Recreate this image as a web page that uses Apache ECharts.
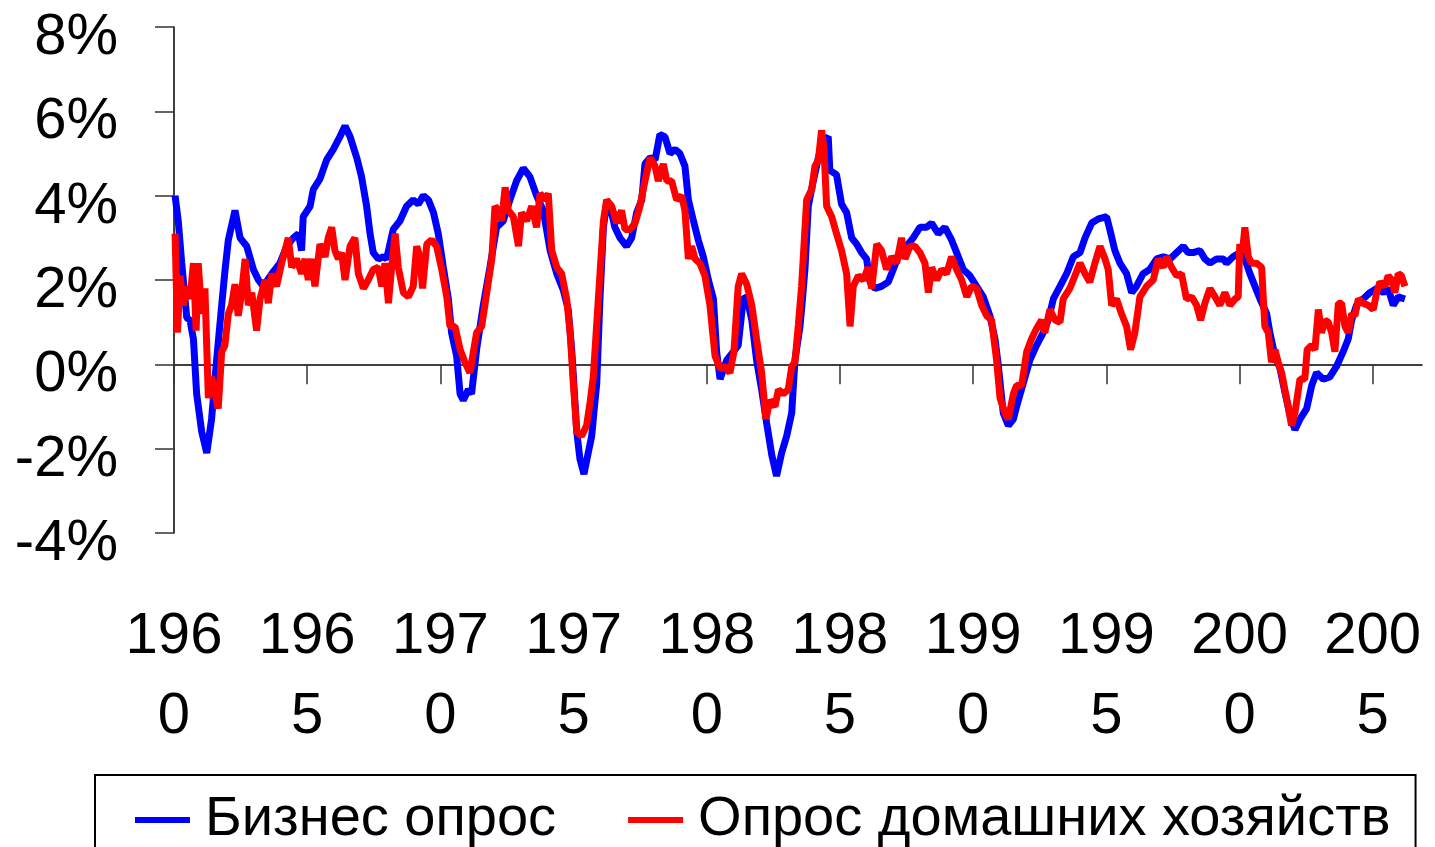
<!DOCTYPE html>
<html>
<head>
<meta charset="utf-8">
<script src="https://cdn.jsdelivr.net/npm/echarts@6/dist/echarts.min.js"></script>
<style>
  html, body { margin: 0; padding: 0; background: #fff; }
  #chart { width: 1435px; height: 847px; }
</style>
</head>
<body>
<div id="chart"></div>
<script>
  // [год, %] — бизнес опрос (синяя линия)
  var business = [
    [1960.04, 4.0], [1960.16, 3.4], [1960.29, 2.4], [1960.48, 1.1], [1960.6, 1.05], [1960.73, 0.6],
    [1960.85, -0.7], [1961.04, -1.6], [1961.23, -2.1], [1961.41, -1.3], [1961.6, 0.1], [1961.79, 1.4],
    [1961.91, 2.2], [1962.04, 2.95], [1962.29, 3.65], [1962.48, 3.0], [1962.73, 2.8], [1962.98, 2.25],
    [1963.17, 2.0], [1963.35, 1.85], [1963.73, 2.2], [1963.98, 2.4], [1964.23, 2.8], [1964.48, 3.0],
    [1964.67, 3.1], [1964.79, 2.7], [1964.85, 3.5], [1965.11, 3.75], [1965.23, 4.15], [1965.48, 4.4],
    [1965.73, 4.85], [1965.98, 5.1], [1966.23, 5.4], [1966.42, 5.65], [1966.61, 5.4], [1966.86, 4.9],
    [1967.04, 4.45], [1967.23, 3.75], [1967.36, 3.1], [1967.48, 2.65], [1967.67, 2.5], [1967.86, 2.55],
    [1967.98, 2.5], [1968.23, 3.2], [1968.48, 3.4], [1968.73, 3.75], [1968.98, 3.9], [1969.17, 3.8],
    [1969.36, 4.0], [1969.55, 3.9], [1969.74, 3.6], [1969.92, 3.1], [1970.11, 2.3], [1970.3, 1.55],
    [1970.42, 0.75], [1970.61, 0.2], [1970.74, -0.7], [1970.86, -0.85], [1971.05, -0.6], [1971.17, -0.7],
    [1971.36, 0.35], [1971.61, 1.4], [1971.86, 2.3], [1972.11, 3.25], [1972.36, 3.4], [1972.61, 3.9],
    [1972.86, 4.35], [1973.11, 4.65], [1973.36, 4.45], [1973.61, 4.0], [1973.86, 3.65], [1974.12, 2.7],
    [1974.37, 2.15], [1974.62, 1.75], [1974.8, 1.3], [1974.93, 0.35], [1975.12, -1.6], [1975.24, -2.25],
    [1975.39, -2.6], [1975.55, -2.1], [1975.68, -1.7], [1975.8, -0.9], [1975.87, -0.45], [1975.99, 1.55],
    [1976.12, 3.25], [1976.24, 3.8], [1976.37, 3.75], [1976.55, 3.25], [1976.74, 3.0], [1976.99, 2.8],
    [1977.18, 3.0], [1977.37, 3.6], [1977.56, 3.9], [1977.68, 4.75], [1977.87, 4.9], [1978.06, 4.85],
    [1978.24, 5.45], [1978.43, 5.4], [1978.62, 5.0], [1978.81, 5.1], [1978.99, 5.0], [1979.18, 4.7],
    [1979.31, 3.9], [1979.5, 3.4], [1979.68, 2.95], [1979.87, 2.55], [1980.06, 2.0], [1980.25, 1.55],
    [1980.37, 0.3], [1980.5, -0.35], [1980.75, 0.1], [1981.0, 0.3], [1981.18, 0.45], [1981.37, 1.55],
    [1981.5, 1.6], [1981.69, 1.05], [1981.87, 0.1], [1982.06, -0.6], [1982.25, -1.4], [1982.44, -2.15],
    [1982.62, -2.65], [1982.81, -2.1], [1983.0, -1.7], [1983.19, -1.15], [1983.31, 0.1], [1983.5, 0.9],
    [1983.6, 1.6], [1983.69, 2.3], [1983.81, 3.75], [1984.0, 4.35], [1984.19, 4.9], [1984.37, 5.3],
    [1984.56, 5.4], [1984.62, 4.6], [1984.87, 4.5], [1985.06, 3.8], [1985.25, 3.6], [1985.44, 3.0],
    [1985.63, 2.85], [1985.81, 2.65], [1986.0, 2.5], [1986.13, 1.95], [1986.31, 1.8], [1986.56, 1.85],
    [1986.81, 1.95], [1987.0, 2.25], [1987.25, 2.65], [1987.5, 2.8], [1987.75, 3.0], [1988.0, 3.25],
    [1988.25, 3.25], [1988.44, 3.35], [1988.69, 3.1], [1988.94, 3.25], [1989.19, 2.95], [1989.38, 2.65],
    [1989.63, 2.25], [1989.88, 2.1], [1990.13, 1.85], [1990.38, 1.6], [1990.63, 1.15], [1990.82, 0.6],
    [1990.94, 0.0], [1991.13, -1.15], [1991.32, -1.45], [1991.51, -1.3], [1991.63, -1.0], [1991.88, -0.45],
    [1992.13, 0.1], [1992.38, 0.45], [1992.63, 0.75], [1992.82, 1.05], [1993.01, 1.55], [1993.26, 1.85],
    [1993.51, 2.15], [1993.76, 2.55], [1994.01, 2.65], [1994.2, 3.0], [1994.45, 3.35], [1994.7, 3.45],
    [1995.01, 3.5], [1995.13, 3.2], [1995.32, 2.7], [1995.51, 2.4], [1995.76, 2.15], [1995.95, 1.7],
    [1996.13, 1.85], [1996.38, 2.15], [1996.63, 2.25], [1996.89, 2.5], [1997.14, 2.55], [1997.39, 2.5],
    [1997.64, 2.65], [1997.89, 2.8], [1998.07, 2.65], [1998.26, 2.65], [1998.51, 2.7], [1998.7, 2.5],
    [1998.89, 2.4], [1999.14, 2.5], [1999.39, 2.5], [1999.51, 2.4], [1999.76, 2.55], [2000.01, 2.65],
    [2000.2, 2.5], [2000.39, 2.15], [2000.58, 1.85], [2000.77, 1.55], [2001.02, 1.2], [2001.14, 0.75],
    [2001.33, 0.2], [2001.52, -0.1], [2001.7, -0.65], [2001.89, -1.2], [2002.08, -1.55], [2002.27, -1.3],
    [2002.52, -1.05], [2002.71, -0.5], [2002.89, -0.2], [2003.14, -0.35], [2003.39, -0.3], [2003.64, -0.05],
    [2003.89, 0.3], [2004.08, 0.6], [2004.21, 1.05], [2004.39, 1.4], [2004.64, 1.55], [2004.89, 1.7],
    [2005.15, 1.8], [2005.4, 1.7], [2005.58, 1.8], [2005.77, 1.4], [2005.96, 1.6], [2006.21, 1.55]
  ];

  // [год, %] — опрос домашних хозяйств (красная линия)
  var households = [
    [1960.04, 3.1], [1960.13, 0.75], [1960.23, 2.1], [1960.35, 1.4], [1960.48, 1.85], [1960.6, 1.55],
    [1960.73, 2.4], [1960.83, 0.8], [1960.91, 2.4], [1961.04, 1.2], [1961.16, 1.8], [1961.29, -0.8],
    [1961.41, -0.3], [1961.54, -0.7], [1961.66, -1.05], [1961.79, 0.3], [1961.91, 0.45], [1962.04, 1.2],
    [1962.16, 1.4], [1962.29, 1.9], [1962.41, 1.15], [1962.54, 1.7], [1962.67, 2.5], [1962.79, 1.4],
    [1962.92, 1.7], [1963.1, 0.8], [1963.23, 1.55], [1963.42, 2.0], [1963.54, 1.45], [1963.67, 2.15],
    [1963.85, 1.85], [1964.04, 2.4], [1964.17, 2.7], [1964.29, 3.0], [1964.42, 2.3], [1964.6, 2.5],
    [1964.79, 2.15], [1964.92, 2.5], [1965.04, 2.0], [1965.17, 2.5], [1965.29, 1.85], [1965.48, 2.85],
    [1965.67, 2.55], [1965.79, 3.0], [1965.92, 3.25], [1966.04, 2.7], [1966.17, 2.5], [1966.29, 2.65],
    [1966.42, 2.0], [1966.61, 2.8], [1966.79, 3.0], [1966.92, 2.15], [1967.11, 1.8], [1967.29, 2.0],
    [1967.48, 2.25], [1967.67, 2.3], [1967.8, 1.85], [1967.92, 2.4], [1968.05, 1.45], [1968.17, 2.3],
    [1968.3, 3.1], [1968.42, 2.3], [1968.61, 1.7], [1968.8, 1.6], [1968.98, 1.85], [1969.11, 2.8],
    [1969.23, 2.55], [1969.33, 1.8], [1969.49, 2.85], [1969.67, 2.95], [1969.86, 2.8], [1970.05, 2.25],
    [1970.24, 1.6], [1970.36, 0.9], [1970.55, 0.9], [1970.74, 0.35], [1970.92, 0.05], [1971.11, -0.2],
    [1971.24, 0.3], [1971.36, 0.75], [1971.55, 0.9], [1971.74, 1.7], [1971.93, 2.5], [1972.05, 3.75],
    [1972.18, 3.65], [1972.3, 3.4], [1972.43, 4.2], [1972.55, 3.65], [1972.74, 3.5], [1972.93, 2.8],
    [1973.05, 3.6], [1973.24, 3.4], [1973.43, 3.75], [1973.61, 3.25], [1973.74, 4.05], [1973.93, 3.9],
    [1974.05, 4.05], [1974.18, 2.7], [1974.37, 2.3], [1974.55, 2.15], [1974.74, 1.55], [1974.87, 0.75],
    [1974.99, -0.45], [1975.12, -1.6], [1975.3, -1.7], [1975.49, -1.45], [1975.62, -0.9], [1975.74, -0.3],
    [1975.93, 1.55], [1976.12, 3.4], [1976.24, 3.9], [1976.43, 3.75], [1976.62, 3.35], [1976.8, 3.65],
    [1976.93, 3.2], [1977.12, 3.2], [1977.31, 3.35], [1977.49, 3.75], [1977.68, 4.35], [1977.87, 4.9],
    [1978.06, 4.7], [1978.18, 4.35], [1978.37, 4.75], [1978.5, 4.35], [1978.68, 4.35], [1978.87, 3.9],
    [1979.06, 4.0], [1979.18, 3.65], [1979.31, 2.5], [1979.43, 2.8], [1979.56, 2.5], [1979.74, 2.4],
    [1979.93, 2.1], [1980.12, 1.4], [1980.31, 0.2], [1980.5, -0.1], [1980.68, -0.05], [1980.87, -0.2],
    [1981.02, 0.3], [1981.18, 1.85], [1981.31, 2.15], [1981.5, 1.9], [1981.69, 1.4], [1981.87, 0.6],
    [1982.06, -0.2], [1982.22, -1.3], [1982.37, -0.85], [1982.56, -1.0], [1982.69, -0.6], [1982.87, -0.7],
    [1983.06, -0.6], [1983.19, -0.05], [1983.31, 0.05], [1983.44, 0.95], [1983.56, 1.85], [1983.75, 3.9],
    [1983.94, 4.15], [1984.06, 4.7], [1984.19, 4.85], [1984.31, 5.55], [1984.4, 5.1], [1984.5, 3.75],
    [1984.69, 3.5], [1984.87, 3.1], [1985.06, 2.7], [1985.25, 2.15], [1985.38, 0.9], [1985.5, 1.85],
    [1985.69, 2.1], [1985.88, 2.0], [1986.06, 2.3], [1986.19, 1.8], [1986.38, 2.85], [1986.56, 2.7],
    [1986.75, 2.25], [1986.94, 2.55], [1987.13, 2.4], [1987.31, 3.0], [1987.44, 2.5], [1987.63, 2.8],
    [1987.82, 2.8], [1988.0, 2.65], [1988.19, 2.4], [1988.32, 1.7], [1988.44, 2.3], [1988.63, 2.0],
    [1988.82, 2.25], [1989.0, 2.15], [1989.19, 2.55], [1989.38, 2.25], [1989.57, 2.0], [1989.76, 1.6],
    [1989.94, 1.85], [1990.13, 1.8], [1990.32, 1.4], [1990.51, 1.15], [1990.69, 1.05], [1990.88, 0.1],
    [1991.01, -0.8], [1991.19, -1.15], [1991.32, -1.3], [1991.51, -0.7], [1991.63, -0.5], [1991.82, -0.5],
    [1992.01, 0.3], [1992.19, 0.6], [1992.38, 0.85], [1992.57, 1.05], [1992.69, 0.75], [1992.88, 1.3],
    [1993.07, 1.05], [1993.26, 1.0], [1993.38, 1.55], [1993.63, 1.8], [1993.82, 2.1], [1994.01, 2.4],
    [1994.2, 2.15], [1994.38, 1.95], [1994.57, 2.4], [1994.76, 2.8], [1994.95, 2.5], [1995.07, 2.25],
    [1995.2, 1.4], [1995.38, 1.55], [1995.57, 1.2], [1995.76, 0.9], [1995.91, 0.35], [1996.07, 0.75],
    [1996.26, 1.6], [1996.51, 1.85], [1996.76, 2.0], [1996.95, 2.5], [1997.14, 2.3], [1997.26, 2.55],
    [1997.45, 2.3], [1997.64, 2.1], [1997.82, 2.15], [1998.01, 1.55], [1998.2, 1.6], [1998.39, 1.4],
    [1998.54, 1.05], [1998.7, 1.45], [1998.89, 1.8], [1999.08, 1.6], [1999.26, 1.4], [1999.45, 1.7],
    [1999.64, 1.4], [1999.83, 1.55], [1999.95, 1.6], [2000.01, 2.85], [2000.11, 2.65], [2000.2, 3.25],
    [2000.33, 2.55], [2000.45, 2.4], [2000.64, 2.4], [2000.83, 2.3], [2000.95, 0.9], [2001.08, 0.75],
    [2001.2, 0.05], [2001.33, 0.35], [2001.45, 0.05], [2001.58, -0.2], [2001.7, -0.6], [2001.83, -1.0],
    [2001.95, -1.45], [2002.08, -1.15], [2002.27, -0.35], [2002.45, -0.35], [2002.54, 0.35], [2002.71, 0.45],
    [2002.83, 0.35], [2002.96, 1.3], [2003.08, 0.75], [2003.21, 1.05], [2003.33, 1.0], [2003.46, 0.75],
    [2003.58, 0.3], [2003.71, 1.45], [2003.83, 1.45], [2003.96, 0.9], [2004.08, 0.75], [2004.21, 1.2],
    [2004.33, 1.15], [2004.46, 1.55], [2004.64, 1.45], [2004.83, 1.4], [2005.02, 1.3], [2005.15, 1.7],
    [2005.27, 1.95], [2005.46, 1.85], [2005.58, 2.1], [2005.71, 2.0], [2005.83, 1.7], [2005.96, 2.15],
    [2006.08, 2.1], [2006.21, 1.85]
  ];

  var xTicks = [1960, 1965, 1970, 1975, 1980, 1985, 1990, 1995, 2000, 2005];
  var seriesNames = ['Бизнес опрос', 'Опрос домашних хозяйств'];

  var font = "'Liberation Sans', Arial, sans-serif";
  var chart = echarts.init(document.getElementById('chart'));

  chart.setOption({
    animation: false,
    backgroundColor: '#fff',
    grid: {
      left: 174,
      right: 13,
      top: 27,
      bottom: 314
    },
    legend: {
      left: 95,
      top: 775,
      padding: [17, 25, 30, 40],
      borderColor: '#000',
      borderWidth: 2,
      itemWidth: 55,
      itemHeight: 6,
      itemGap: 72,
      icon: 'rect',
      data: seriesNames,
      textStyle: {
        fontFamily: font,
        fontSize: 56,
        color: '#000',
        padding: [0, 0, 0, 10]
      }
    },
    xAxis: {
      type: 'value',
      min: 1960,
      max: 2006.85,
      interval: 5,
      splitLine: { show: false },
      axisLine: { lineStyle: { color: '#000', width: 1.5 } },
      axisTick: {
        customValues: xTicks,
        length: 20,
        lineStyle: { color: '#333', width: 1.5 }
      },
      axisLabel: {
        customValues: xTicks,
        margin: 64,
        fontFamily: font,
        fontSize: 58,
        lineHeight: 80,
        color: '#000',
        formatter: function (v) {
          var s = String(v);
          return s.slice(0, 3) + '\n' + s.slice(3);
        }
      }
    },
    yAxis: {
      type: 'value',
      min: -4,
      max: 8,
      interval: 2,
      splitLine: { show: false },
      axisLine: { show: true, lineStyle: { color: '#000', width: 1.5 } },
      axisTick: {
        show: true,
        length: 19,
        lineStyle: { color: '#333', width: 1.5 }
      },
      axisLabel: {
        margin: 56,
        fontFamily: font,
        fontSize: 58,
        color: '#000',
        verticalAlign: 'top',
        lineHeight: 22,
        formatter: function (v) { return v + '%'; }
      }
    },
    series: [{
      name: seriesNames[0],
      type: 'line',
      data: business,
      showSymbol: false,
      color: '#0000ff',
      lineStyle: { color: '#0000ff', width: 7 }
    }, {
      name: seriesNames[1],
      type: 'line',
      data: households,
      showSymbol: false,
      color: '#ff0000',
      lineStyle: { color: '#ff0000', width: 7 }
    }]
  });
</script>
</body>
</html>
